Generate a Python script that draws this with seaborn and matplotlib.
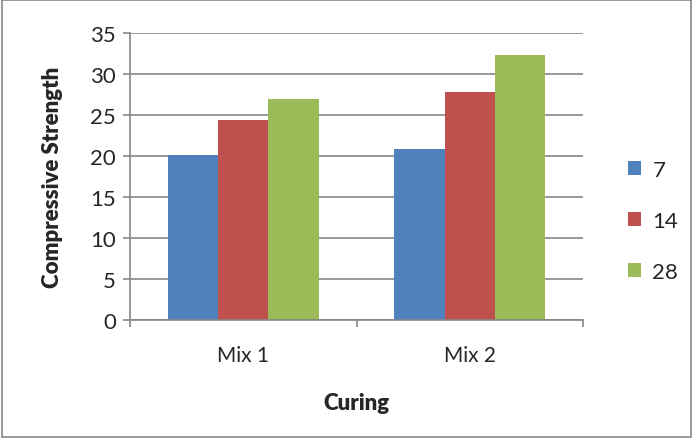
import matplotlib
matplotlib.use("Agg")
import matplotlib.pyplot as plt
import seaborn as sns
import pandas as pd
from matplotlib.patches import Rectangle

categories = ["Mix 1", "Mix 2"]
series = ["7", "14", "28"]
values_7 = [20.1, 20.9]
values_14 = [24.4, 27.8]
values_28 = [27.0, 32.3]
yticks = [0, 5, 10, 15, 20, 25, 30, 35]

rows = []
for s, vals in zip(series, [values_7, values_14, values_28]):
    for c, v in zip(categories, vals):
        rows.append({"Curing": c, "Series": s, "Value": v})
df = pd.DataFrame(rows)

sns.set_theme(style="white")
plt.rcParams['font.family'] = ['Lato', 'DejaVu Sans']

colors = ["#4F81BD", "#C0504D", "#9BBB59"]
fig = plt.figure(figsize=(6.93, 4.39), dpi=100)
ax = fig.add_axes([0.1876, 0.2688, 0.8413 - 0.1876, 0.9226 - 0.2688])

sns.barplot(data=df, x="Curing", y="Value", hue="Series", hue_order=series,
            palette=colors, width=0.665, ax=ax, saturation=1, legend=True,
            edgecolor="none", linewidth=0)

ax.set_ylim(0, 35)
ax.set_xlim(-0.5, 1.5)
ax.set_yticks(yticks)
ax.yaxis.grid(True, color="#868686", linewidth=1.2)
ax.set_axisbelow(True)
for sp in ["top", "right"]:
    ax.spines[sp].set_visible(False)
for sp in ["left", "bottom"]:
    ax.spines[sp].set_color("#868686")
    ax.spines[sp].set_linewidth(1.2)

ax.tick_params(axis="y", which="major", left=True, length=5, color="#868686",
               width=1.2, labelsize=16, pad=5)
ax.tick_params(axis="x", which="major", bottom=False, labelsize=15, pad=12)
ax.set_xticks([-0.5, 0.5, 1.5], minor=True)
ax.tick_params(axis="x", which="minor", bottom=True, length=5, color="#868686", width=1.2)

ax.set_xlabel("Curing", fontsize=16, fontweight="heavy", va="center")
ax.set_ylabel("Compressive Strength", fontsize=16, fontweight="heavy", va="center")
ax.xaxis.set_label_coords(0.5, -0.289)
ax.yaxis.set_label_coords(-0.17, 0.5)

leg = ax.legend(loc="center left", bbox_to_anchor=(1.055, 0.345), frameon=False,
                fontsize=16, handlelength=0.6, handleheight=0.6,
                labelspacing=1.4, handletextpad=0.5)
leg.set_title(None)

fig.patches.append(Rectangle((0.003, 0.003), 0.994, 0.994, transform=fig.transFigure,
                             fill=False, edgecolor="#868686", linewidth=1.2))

fig.savefig("out.png", dpi=100)
